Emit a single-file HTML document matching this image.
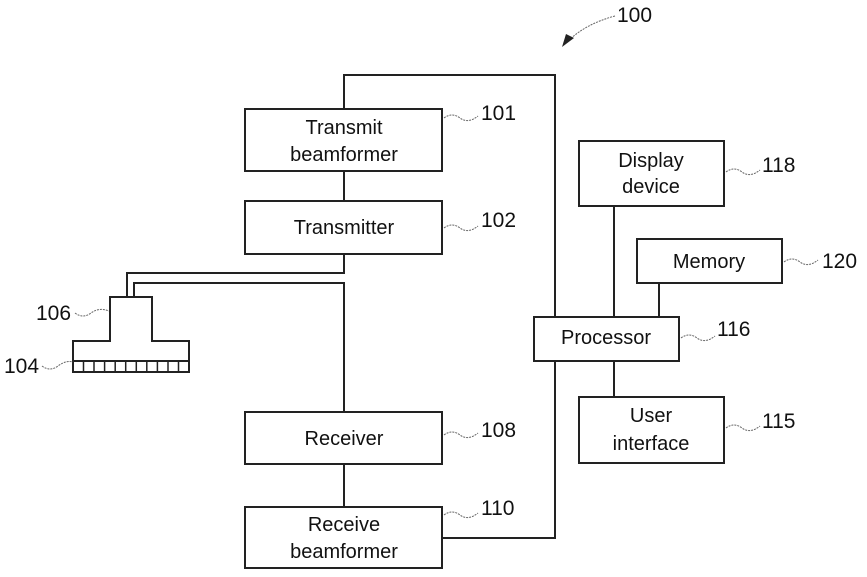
<!DOCTYPE html>
<html><head><style>body{margin:0;background:#fff}svg{display:block}</style></head><body>
<svg width="867" height="577" viewBox="0 0 867 577" xmlns="http://www.w3.org/2000/svg" font-family="Liberation Sans, sans-serif" fill="none" stroke="#222" stroke-width="2">
<g>
<rect x="245" y="109" width="197" height="62"/>
<rect x="245" y="201" width="197" height="53"/>
<rect x="245" y="412" width="197" height="52"/>
<rect x="245" y="507" width="197" height="61"/>
<rect x="579" y="141" width="145" height="65"/>
<rect x="637" y="239" width="145" height="44"/>
<rect x="534" y="317" width="145" height="44"/>
<rect x="579" y="397" width="145" height="66"/>
<polyline points="344,109 344,75 555,75 555,317"/>
<polyline points="555,361 555,538 442,538"/>
<line x1="344" y1="171" x2="344" y2="201"/>
<line x1="344" y1="464" x2="344" y2="507"/>
<polyline points="127,297 127,273 344,273 344,254"/>
<polyline points="134,297 134,283 344,283 344,412"/>
<line x1="614" y1="206" x2="614" y2="317"/>
<line x1="659" y1="283" x2="659" y2="317"/>
<line x1="614" y1="361" x2="614" y2="397"/>
<polyline points="73,361 73,341 110,341 110,297 152,297 152,341 189,341 189,361"/>
<rect x="73" y="361" width="116" height="11"/>
</g>
<g stroke-width="1.5">
<line x1="83.5" y1="361" x2="83.5" y2="372"/><line x1="94" y1="361" x2="94" y2="372"/><line x1="104.6" y1="361" x2="104.6" y2="372"/><line x1="115.2" y1="361" x2="115.2" y2="372"/><line x1="125.7" y1="361" x2="125.7" y2="372"/><line x1="136.3" y1="361" x2="136.3" y2="372"/><line x1="146.8" y1="361" x2="146.8" y2="372"/><line x1="157.4" y1="361" x2="157.4" y2="372"/><line x1="168" y1="361" x2="168" y2="372"/><line x1="178.5" y1="361" x2="178.5" y2="372"/>
</g>
<g stroke="#666" stroke-width="1" stroke-dasharray="2,1">
<path d="M444,118 q8,-6 16,0 t18,-2 "/>
<path d="M444,228 q8,-6 16,0 t18,-2"/>
<path d="M444,435 q8,-6 16,0 t18,-2"/>
<path d="M444,515 q8,-6 16,0 t18,-2"/>
<path d="M726,172 q8,-6 16,0 t18,-2"/>
<path d="M784,262 q8,-6 16,0 t18,-2"/>
<path d="M681,338 q8,-6 16,0 t18,-2"/>
<path d="M726,428 q8,-6 16,0 t18,-2"/>
<path d="M75,313 q8,6 16,0 t18,-2"/>
<path d="M42,366 q8,6 16,0 t15,-4"/>
<path d="M615,16 q-30,8 -48,26"/>
</g>
<polygon points="562,47 574,38 566,34" fill="#222" stroke="none"/>
<g fill="#111" stroke="none" font-size="20" text-anchor="middle">
<text x="344" y="134">Transmit</text><text x="344" y="161">beamformer</text>
<text x="344" y="234">Transmitter</text>
<text x="344" y="445">Receiver</text>
<text x="344" y="531">Receive</text><text x="344" y="558">beamformer</text>
<text x="651" y="167">Display</text><text x="651" y="193">device</text>
<text x="709" y="268">Memory</text>
<text x="606" y="344">Processor</text>
<text x="651" y="422">User</text><text x="651" y="450">interface</text>
</g>
<g fill="#111" stroke="none" font-size="21">
<text x="481" y="120">101</text>
<text x="481" y="227">102</text>
<text x="481" y="437">108</text>
<text x="481" y="515">110</text>
<text x="762" y="172">118</text>
<text x="822" y="268">120</text>
<text x="717" y="336">116</text>
<text x="762" y="428">115</text>
<text x="36" y="320">106</text>
<text x="4" y="373">104</text>
<text x="617" y="22">100</text>
</g>
</svg>
</body></html>
